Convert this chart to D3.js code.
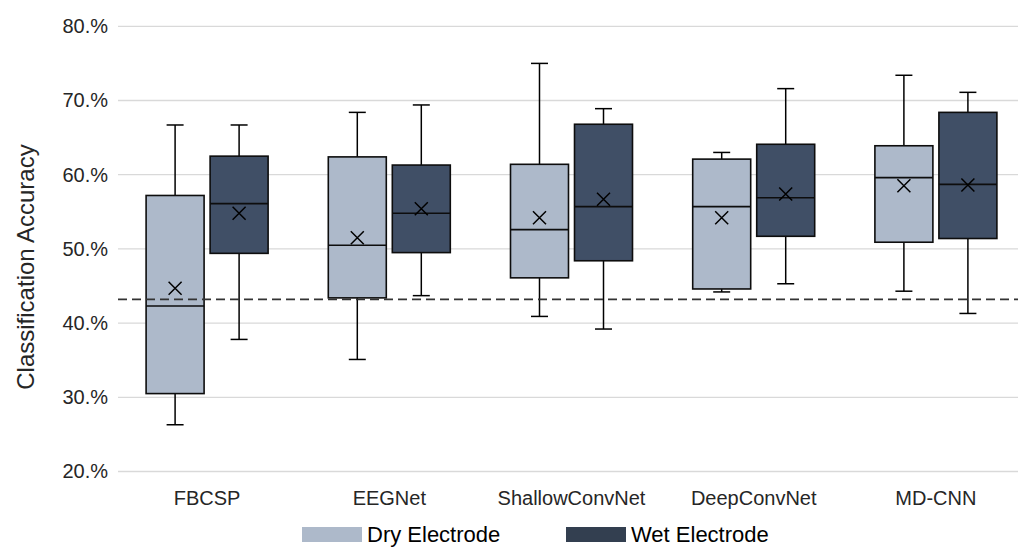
<!DOCTYPE html>
<html>
<head>
<meta charset="utf-8">
<script src="https://cdn.jsdelivr.net/npm/d3@7"></script>
<style>
  html, body { margin: 0; padding: 0; background: #fff; }
  svg { display: block; font-family: "Liberation Sans", Arial, sans-serif; }
</style>
</head>
<body>
<svg id="chart" width="1018" height="548"></svg>
<script>
// ---- data (percent) ----
const categories = ["FBCSP", "EEGNet", "ShallowConvNet", "DeepConvNet", "MD-CNN"];
const seriesNames = ["Dry Electrode", "Wet Electrode"];
const yTicks = [20, 30, 40, 50, 60, 70, 80];
const chanceLevel = 43.2;

const dryMin    = [26.3, 35.1, 40.9, 44.2, 44.3];
const dryQ1     = [30.5, 43.4, 46.1, 44.6, 50.9];
const dryMedian = [42.3, 50.5, 52.6, 55.7, 59.6];
const dryQ3     = [57.2, 62.4, 61.4, 62.1, 63.9];
const dryMax    = [66.7, 68.4, 75.0, 63.0, 73.4];
const dryMean   = [44.7, 51.5, 54.2, 54.2, 58.5];

const wetMin    = [37.8, 43.7, 39.2, 45.3, 41.3];
const wetQ1     = [49.4, 49.5, 48.4, 51.7, 51.4];
const wetMedian = [56.1, 54.8, 55.7, 56.9, 58.7];
const wetQ3     = [62.5, 61.3, 66.8, 64.1, 68.4];
const wetMax    = [66.7, 69.4, 68.9, 71.6, 71.1];
const wetMean   = [54.8, 55.4, 56.7, 57.4, 58.6];

// ---- build rows ----
const rows = [];
categories.forEach((c, i) => {
  rows.push({cat: c, series: seriesNames[0], min: dryMin[i], q1: dryQ1[i], med: dryMedian[i], q3: dryQ3[i], max: dryMax[i], mean: dryMean[i]});
  rows.push({cat: c, series: seriesNames[1], min: wetMin[i], q1: wetQ1[i], med: wetMedian[i], q3: wetQ3[i], max: wetMax[i], mean: wetMean[i]});
});

const colors = {"Dry Electrode": "#ADB9CA", "Wet Electrode": "#404F66"};
const legendColors = {"Dry Electrode": "#ADB9CA", "Wet Electrode": "#333F50"};

const svg = d3.select("#chart");
const plotLeft = 116, plotRight = 1027, plotTop = 26.3, plotBottom = 471.5;

const x = d3.scaleBand().domain(categories).range([plotLeft, plotRight]).paddingInner(0).paddingOuter(0);
const xs = d3.scaleBand().domain(seriesNames).range([-61, 61]).paddingInner(0.094).paddingOuter(0);
const y = d3.scaleLinear().domain([20, 80]).range([plotBottom, plotTop]);

// gridlines
svg.append("g").selectAll("line").data(yTicks).join("line")
  .attr("x1", plotLeft + 2).attr("x2", plotRight)
  .attr("y1", d => y(d)).attr("y2", d => y(d))
  .attr("stroke", "#D9D9D9").attr("stroke-width", 1.3);

// y axis labels
const yAxis = d3.axisLeft(y).tickValues(yTicks).tickSize(0).tickPadding(0).tickFormat(d => d + ".%");
const gy = svg.append("g").attr("transform", `translate(108,0)`).call(yAxis);
gy.select(".domain").remove();
gy.selectAll("text").attr("font-size", 20).attr("fill", "#262626")
  .attr("font-family", "Liberation Sans, Arial, sans-serif");

// x axis labels
const xAxis = d3.axisBottom(x).tickSize(0).tickPadding(0);
const gx = svg.append("g").attr("transform", `translate(0,491)`).call(xAxis);
gx.select(".domain").remove();
gx.selectAll("text").attr("font-size", 20).attr("fill", "#262626").attr("dy", "0.71em")
  .attr("font-family", "Liberation Sans, Arial, sans-serif");

// y axis title
svg.append("text")
  .attr("transform", "translate(34,267) rotate(-90)")
  .attr("text-anchor", "middle")
  .attr("font-size", 24).attr("fill", "#262626")
  .text("Classification Accuracy");

// boxes
const cx = d => x(d.cat) + x.bandwidth() / 2 + xs(d.series) + xs.bandwidth() / 2;
const bw = xs.bandwidth();
const capW = 17;
const g = svg.append("g").selectAll("g").data(rows).join("g");
// whiskers
g.append("line").attr("x1", cx).attr("x2", cx).attr("y1", d => y(d.max)).attr("y2", d => y(d.q3))
  .attr("stroke", "#000").attr("stroke-width", 1.5);
g.append("line").attr("x1", cx).attr("x2", cx).attr("y1", d => y(d.q1)).attr("y2", d => y(d.min))
  .attr("stroke", "#000").attr("stroke-width", 1.5);
g.append("line").attr("x1", d => cx(d) - capW / 2).attr("x2", d => cx(d) + capW / 2)
  .attr("y1", d => y(d.max)).attr("y2", d => y(d.max)).attr("stroke", "#000").attr("stroke-width", 1.5);
g.append("line").attr("x1", d => cx(d) - capW / 2).attr("x2", d => cx(d) + capW / 2)
  .attr("y1", d => y(d.min)).attr("y2", d => y(d.min)).attr("stroke", "#000").attr("stroke-width", 1.5);
// box
g.append("rect").attr("x", d => cx(d) - bw / 2).attr("width", bw)
  .attr("y", d => y(d.q3)).attr("height", d => y(d.q1) - y(d.q3))
  .attr("fill", d => colors[d.series]).attr("stroke", "#0D0D0D").attr("stroke-width", 1.6);
// median
g.append("line").attr("x1", d => cx(d) - bw / 2).attr("x2", d => cx(d) + bw / 2)
  .attr("y1", d => y(d.med)).attr("y2", d => y(d.med)).attr("stroke", "#0D0D0D").attr("stroke-width", 1.6);
// mean marker (x)
const ms = 6.5;
g.append("path").attr("d", d => {
  const px = cx(d), py = y(d.mean);
  return `M${px - ms},${py - ms}L${px + ms},${py + ms}M${px - ms},${py + ms}L${px + ms},${py - ms}`;
}).attr("stroke", "#000").attr("stroke-width", 1.5).attr("fill", "none");

// chance level dashed line
svg.append("line")
  .attr("x1", plotLeft + 2).attr("x2", plotRight)
  .attr("y1", y(chanceLevel)).attr("y2", y(chanceLevel))
  .attr("stroke", "#333333").attr("stroke-width", 1.6).attr("stroke-dasharray", "9,5");

// legend
const legendX = [302, 566];
const lg = svg.append("g").selectAll("g").data(seriesNames).join("g")
  .attr("transform", (d, i) => `translate(${legendX[i]},527)`);
lg.append("rect").attr("width", 60).attr("height", 15).attr("fill", d => legendColors[d]);
lg.append("text").attr("x", 65).attr("y", 15).attr("font-size", 22).attr("fill", "#000")
  .text(d => d);
</script>
</body>
</html>
